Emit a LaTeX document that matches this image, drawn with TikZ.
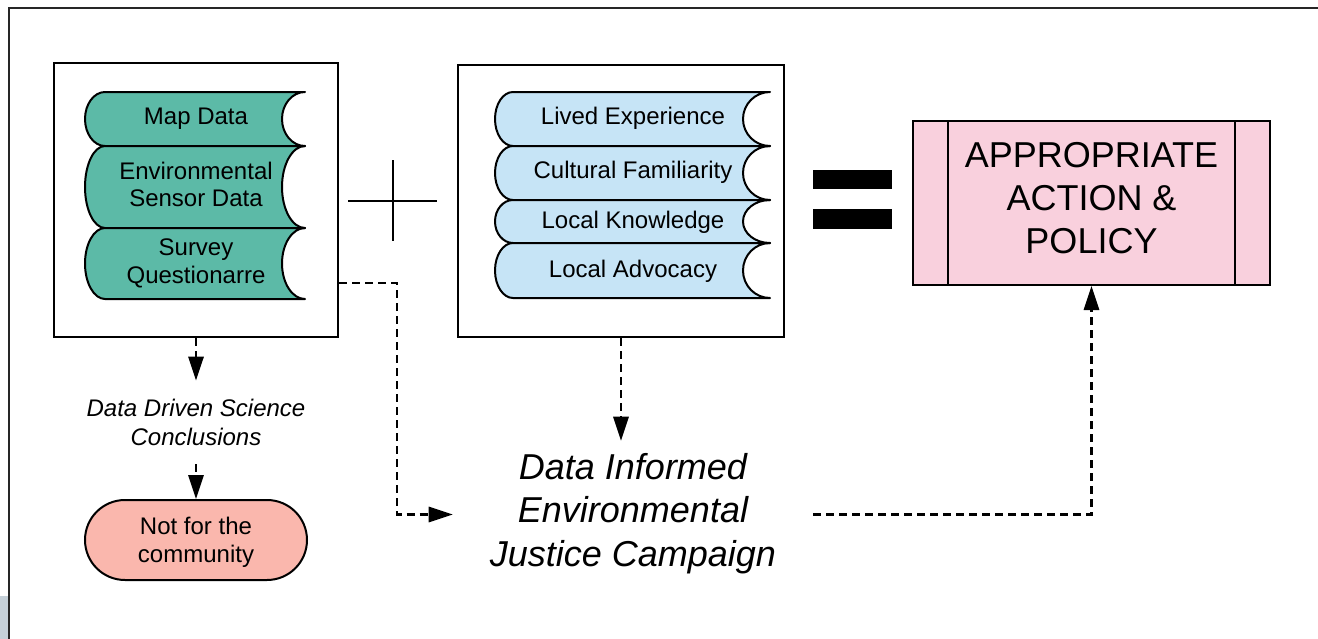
\documentclass[tikz,border=0pt]{standalone}
\usepackage{fontspec}
\setmainfont{Liberation Sans}
\usetikzlibrary{arrows.meta}
\definecolor{grn}{RGB}{92,186,167}
\definecolor{lblue}{RGB}{198,228,246}
\definecolor{pinkfill}{RGB}{249,208,221}
\definecolor{salmon}{RGB}{250,183,173}
\definecolor{patch}{RGB}{197,208,216}
\newcommand{\mydatashape}[7]{%
  \pgfmathsetmacro\ym{(#4+#5)/2}%
  \pgfmathsetmacro\hh{(#5-#4)/2}%
  \draw[fill=#1, line width=1.5pt, line join=round]
    ({#2+#6},#4) -- (#3,#4)
    .. controls ({#3-0.552*#7},#4) and ({#3-#7},{\ym-0.552*\hh}) .. ({#3-#7},\ym)
    .. controls ({#3-#7},{\ym+0.552*\hh}) and ({#3-0.552*#7},#5) .. (#3,#5)
    -- ({#2+#6},#5)
    .. controls ({#2+#6-0.552*#6},#5) and (#2,{\ym+0.552*\hh}) .. (#2,\ym)
    .. controls (#2,{\ym-0.552*\hh}) and ({#2+#6-0.552*#6},#4) .. ({#2+#6},#4) -- cycle;
}
\begin{document}
\begin{tikzpicture}[x=0.75pt,y=-0.75pt,
  container/.style={draw, line width=1.5pt, fill=white, inner sep=0pt},
  lbl/.style={font=\fontsize{18pt}{20.5pt}\selectfont, align=center, text depth=0pt, inner sep=0pt},
  itlbl/.style={font=\fontsize{18pt}{21.5pt}\selectfont\itshape, align=center, text depth=0pt, inner xsep=0pt, inner ysep=14pt},
  biglbl/.style={font=\fontsize{27pt}{32.5pt}\selectfont, align=center, text depth=0pt, inner sep=0pt},
  dasharrow/.style={line width=1.7pt, dash pattern=on 6pt off 3.75pt, -{Triangle[length=18pt,width=11.5pt]}}
]
\useasboundingbox (0,0) rectangle (1318,639);
\fill[white] (0,0) rectangle (1318,639);
% outer frame and patch
\fill[patch] (0,596) rectangle (8,639);
\draw[line width=1.6pt, black!85] (9,645) -- (9,8) -- (1325,8);

% containers
\node[container, minimum width=213pt, minimum height=205.5pt] (leftbox) at (196,200) {};
\node[container, minimum width=244.5pt, minimum height=204pt] (midbox) at (621,201) {};
\node[container, fill=pinkfill, minimum width=267.75pt, minimum height=123pt] (pink) at (1091.5,203) {};
\draw[line width=1.5pt] ([xshift=27pt]pink.north west) -- ([xshift=27pt]pink.south west);
\draw[line width=1.5pt] ([xshift=-27pt]pink.north east) -- ([xshift=-27pt]pink.south east);

% green data shapes
\mydatashape{grn}{85}{305}{92}{146}{20}{23}
\mydatashape{grn}{85}{305}{146}{228}{20}{23}
\mydatashape{grn}{85}{305}{228}{299}{20}{23}
\node[lbl] (mapdata) at (196,116) {Map Data};
\node[lbl] (sensor) at (196,184.5) {Environmental\\Sensor Data};
\node[lbl] (survey) at (196,261) {Survey\\Questionarre};

% blue data shapes
\mydatashape{lblue}{495}{770}{92}{146}{18}{27}
\mydatashape{lblue}{495}{770}{146}{200}{18}{27}
\mydatashape{lblue}{495}{770}{200}{243}{18}{27}
\mydatashape{lblue}{495}{770}{243}{298}{18}{27}
\node[lbl] (lived) at (633,116) {Lived Experience};
\node[lbl] (cultural) at (633,170) {Cultural Familiarity};
\node[lbl] (knowledge) at (633,220) {Local Knowledge};
\node[lbl] (advocacy) at (633,269) {Local Advocacy};

% plus and equals
\draw[line width=1.5pt] (348,201) -- (437,201);
\draw[line width=1.5pt] (393,160) -- (393,241);
\fill (813,170) rectangle (892,189);
\fill (813,209) rectangle (892,229);

% texts
\node[biglbl] (policy) at (1091.5,198) {APPROPRIATE\\ACTION \&\\POLICY};
\node[itlbl] (ddsc) at (196,422.5) {Data Driven Science\\Conclusions};
\node[draw, line width=1.5pt, fill=salmon, rounded corners=30pt, minimum width=166.5pt, minimum height=60pt, lbl, font=\fontsize{18pt}{21pt}\selectfont] (pill) at (196,540) {Not for the\\community};
\node[biglbl, font=\fontsize{27pt}{32.6pt}\selectfont\itshape, minimum width=270pt, inner ysep=9pt] (campaign) at (633,509.5) {Data Informed\\Environmental\\Justice Campaign};

% connectors
\draw[dasharrow] (leftbox.south) -- (ddsc.north);
\draw[dasharrow] (ddsc.south) -- (pill.north);
\draw[dasharrow] ([yshift=-62.25pt]leftbox.east) -| ([xshift=-42pt,yshift=-3.75pt]campaign.west) -- ([yshift=-3.75pt]campaign.west);
\draw[dasharrow] (midbox.south) -- (midbox.south |- campaign.north);
\draw[dasharrow] ([yshift=-3.75pt]campaign.east) -| (pink.south);
\end{tikzpicture}
\end{document}
